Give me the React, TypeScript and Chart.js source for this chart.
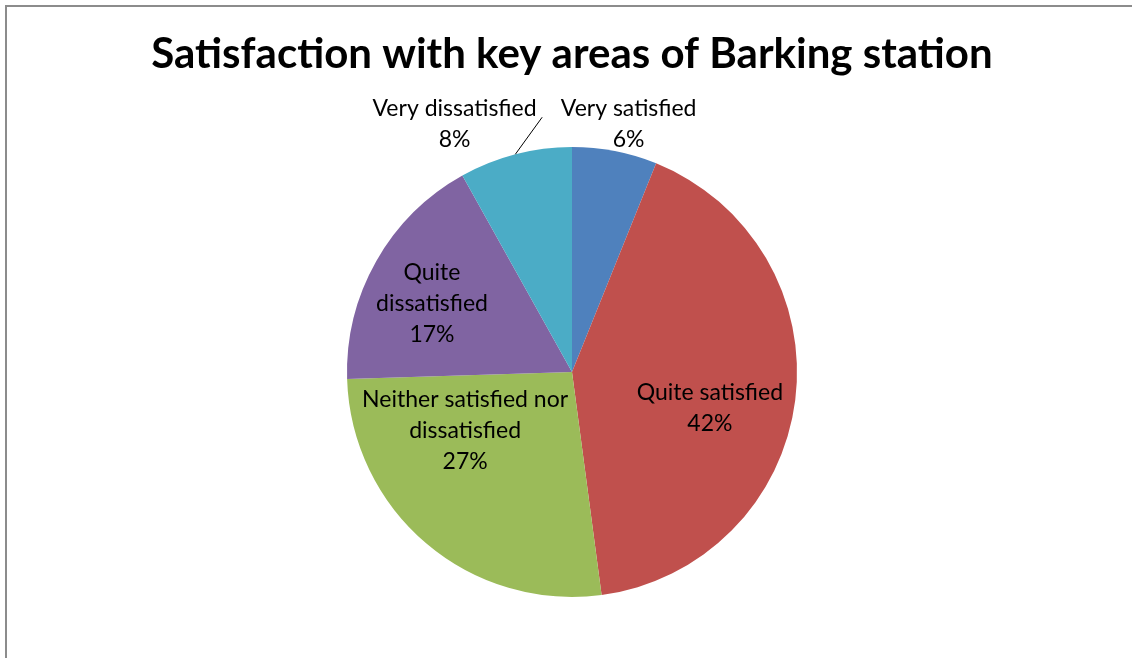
import React, { useEffect, useRef } from "react";
import { Chart, registerables } from "chart.js";

Chart.register(...registerables);

const TITLE = "Satisfaction with key areas of Barking station";
const categories = [
  "Very satisfied",
  "Quite satisfied",
  "Neither satisfied nor dissatisfied",
  "Quite dissatisfied",
  "Very dissatisfied",
];
const values = [6.1, 41.8, 26.6, 17.4, 8.1];
const labelLines = [
  ["Very satisfied", "6%"],
  ["Quite satisfied", "42%"],
  ["Neither satisfied nor", "dissatisfied", "27%"],
  ["Quite", "dissatisfied", "17%"],
  ["Very dissatisfied", "8%"],
];
const colors = ["#4F81BD", "#C0504D", "#9BBB59", "#8064A2", "#4BACC6"];

// label placement relative to each arc: angle offset from mid-angle (deg), radius as fraction of outer radius
const labelAngleDelta = [1.8, 6.6, 21.7, -2.9, -10.6];
const labelRadiusFrac = [1.138, 0.631, 0.538, 0.696, 1.227];
const leaderLine = [null, null, null, null, { angleDelta: 7.9, frac: 1.14 }];

const FONT = "Lato, 'Open Sans', sans-serif";

const labelPlugin = {
  id: "customLabels",
  afterDraw(chart: any) {
    const ctx = chart.ctx;
    const meta = chart.getDatasetMeta(0);
    ctx.save();
    // title
    ctx.fillStyle = "#000";
    ctx.font = `bold 42px ${FONT}`;
    ctx.textAlign = "center";
    ctx.textBaseline = "alphabetic";
    const cx = (chart.chartArea.left + chart.chartArea.right) / 2;
    ctx.fillText(TITLE, cx, 68);

    ctx.font = `23px ${FONT}`;
    ctx.textBaseline = "middle";
    const lh = 31;
    meta.data.forEach((arc: any, i: number) => {
      const p = arc.getProps(["x", "y", "startAngle", "endAngle", "outerRadius"], true);
      const mid = (p.startAngle + p.endAngle) / 2;
      const a = mid + (labelAngleDelta[i] * Math.PI) / 180;
      const r = p.outerRadius * labelRadiusFrac[i];
      const lx = p.x + Math.cos(a) * r;
      const ly = p.y + Math.sin(a) * r + 2;
      const lines = labelLines[i];
      const top = ly - ((lines.length - 1) * lh) / 2;
      lines.forEach((t, k) => ctx.fillText(t, lx, top + k * lh));
      const ll = leaderLine[i];
      if (ll) {
        const sx = p.x + Math.cos(mid) * p.outerRadius;
        const sy = p.y + Math.sin(mid) * p.outerRadius;
        const ea = mid + (ll.angleDelta * Math.PI) / 180;
        const ex = p.x + Math.cos(ea) * p.outerRadius * ll.frac;
        const ey = p.y + Math.sin(ea) * p.outerRadius * ll.frac;
        ctx.strokeStyle = "#000";
        ctx.lineWidth = 1;
        ctx.beginPath();
        ctx.moveTo(sx, sy);
        ctx.lineTo(ex, ey);
        ctx.stroke();
      }
    });
    ctx.restore();
  },
};

export default function App() {
  const ref = useRef<HTMLCanvasElement>(null);
  useEffect(() => {
    if (!ref.current) return;
    const chart = new Chart(ref.current, {
      type: "pie",
      data: {
        labels: categories,
        datasets: [
          {
            data: values,
            backgroundColor: colors,
            borderWidth: 0,
          },
        ],
      },
      options: {
        responsive: false,
        animation: false,
        layout: { padding: { left: 347, right: 335, top: 147, bottom: 61 } },
        plugins: {
          legend: { display: false },
          title: { display: false },
          tooltip: { enabled: false },
        },
      },
      plugins: [labelPlugin],
    });
    return () => chart.destroy();
  }, []);
  return (
    <div style={{ position: "fixed", left: 0, top: 0, width: 1132, height: 658, background: "#fff", overflow: "hidden" }}>
      <div
        style={{
          position: "absolute",
          left: 5,
          top: 5,
          width: 1200,
          height: 800,
          borderLeft: "2px solid #8c8c8c",
          borderTop: "2px solid #8c8c8c",
        }}
      />
      <canvas ref={ref} width={1132} height={658} style={{ position: "absolute", left: 0, top: 0 }} />
    </div>
  );
}
